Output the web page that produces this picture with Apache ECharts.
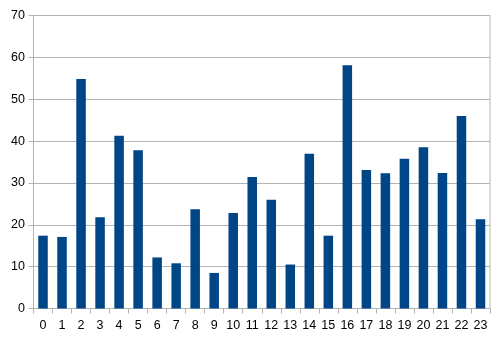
<!DOCTYPE html>
<html><head><meta charset="utf-8">
<script src="https://cdn.jsdelivr.net/npm/echarts@6/dist/echarts.min.js"></script>
<style>html,body{margin:0;padding:0;background:#fff}#c{width:502px;height:344px}</style>
</head><body><div id="c"></div>
<script>
const categories = ['0','1','2','3','4','5','6','7','8','9','10','11','12','13','14','15','16','17','18','19','20','21','22','23'];
const values = [17.4,17.1,54.8,21.8,41.3,37.8,12.2,10.8,23.7,8.5,22.8,31.4,26.0,10.5,37.0,17.4,58.1,33.1,32.3,35.8,38.5,32.4,46.0,21.3];
const yTicks = {min:0, max:70, interval:10};

const chart = echarts.init(document.getElementById('c'), null, {renderer:'canvas'});
chart.setOption({
  animation:false,
  backgroundColor:'#ffffff',
  grid:{left:33.5, right:12, top:15.5, bottom:35.5, containLabel:false,
        show:true, borderColor:'#b3b3b3', borderWidth:1, backgroundColor:'transparent'},
  xAxis:{
    type:'category', data:categories,
    axisLine:{show:true, lineStyle:{color:'#b3b3b3', width:1}},
    axisTick:{show:true, alignWithLabel:false, length:5, lineStyle:{color:'#b3b3b3'}},
    axisLabel:{color:'#000', fontFamily:'Liberation Sans', fontSize:12.5, margin:11, interval:0},
    splitLine:{show:false}
  },
  yAxis:{
    type:'value', min:yTicks.min, max:yTicks.max, interval:yTicks.interval,
    axisLine:{show:true, lineStyle:{color:'#b3b3b3', width:1}},
    axisTick:{show:true, length:5, lineStyle:{color:'#b3b3b3'}},
    axisLabel:{color:'#000', fontFamily:'Liberation Sans', fontSize:12.5, margin:8.5},
    splitLine:{show:true, lineStyle:{color:'#b3b3b3', width:1}}
  },
  series:[{
    type:'bar', data:values, barWidth:'50%',
    itemStyle:{color:'#004586'}
  }]
});
</script></body></html>
